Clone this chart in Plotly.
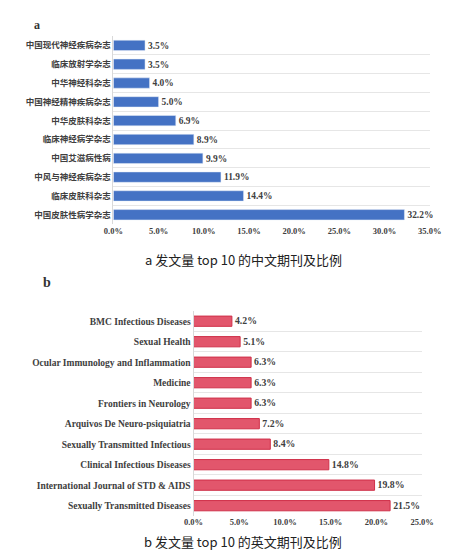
import plotly.graph_objects as go

cn_journals = ['中国皮肤性病学杂志', '临床皮肤科杂志', '中风与神经疾病杂志', '中国艾滋病性病',
               '临床神经病学杂志', '中华皮肤科杂志', '中国神经精神疾病杂志', '中华神经科杂志',
               '临床放射学杂志', '中国现代神经疾病杂志']
cn_share = [32.2, 14.4, 11.9, 9.9, 8.9, 6.9, 5.0, 4.0, 3.5, 3.5]

en_journals = ['Sexually Transmitted Diseases', 'International Journal of STD & AIDS',
               'Clinical Infectious Diseases', 'Sexually Transmitted Infectious',
               'Arquivos De Neuro-psiquiatria', 'Frontiers in Neurology', 'Medicine',
               'Ocular Immunology and Inflammation', 'Sexual Health', 'BMC Infectious Diseases']
en_share = [21.5, 19.8, 14.8, 8.4, 7.2, 6.3, 6.3, 6.3, 5.1, 4.2]

serif = 'Liberation Serif'
cjk = 'Noto Sans CJK SC'
pos = list(range(len(cn_journals)))
half = [i - 0.5 for i in range(len(cn_journals) + 1)]

fig = go.Figure()
fig.add_trace(go.Bar(
    x=cn_share, y=pos, orientation='h', width=0.55,
    marker=dict(color='#4472c4'),
    text=[f'<b>{v:.1f}%</b>' for v in cn_share], textposition='outside', cliponaxis=False,
    textfont=dict(family=serif, size=10, color='#404040'),
    xaxis='x', yaxis='y'))
fig.add_trace(go.Bar(
    x=en_share, y=pos, orientation='h', width=0.5,
    marker=dict(color='#e2566c', line=dict(color='#cf3049', width=1)),
    text=[f'<b>{v:.1f}%</b>' for v in en_share], textposition='outside', cliponaxis=False,
    textfont=dict(family=serif, size=10.5, color='#404040'),
    xaxis='x2', yaxis='y2'))

ax_common = dict(showgrid=False, zeroline=False, ticks='', tickprefix='<b>', ticksuffix='%</b>',
                 tickformat='.1f', dtick=5,
                 tickfont=dict(family=serif, size=8.5, color='#404040'))
fig.update_layout(
    width=472, height=560, showlegend=False, plot_bgcolor='white', paper_bgcolor='white',
    margin=dict(l=0, r=0, t=0, b=0),
    xaxis=dict(domain=[0.212, 0.915], range=[0, 35], anchor='y', **ax_common),
    yaxis=dict(domain=[0.614, 0.95], range=[-0.5, 9.5], tickvals=pos,
               ticktext=[f'<b>{t}</b>' for t in cn_journals],
               tickfont=dict(family=cjk, size=8.5, color='#404040'), ticks='', zeroline=False,
               showgrid=False, showline=True, linecolor='#d9d9d9', anchor='x',
               minor=dict(tickvals=half, showgrid=True, gridcolor='#e6e6e6')),
    xaxis2=dict(domain=[0.39, 0.898], range=[0, 25], anchor='y2', **ax_common),
    yaxis2=dict(domain=[0.093, 0.459], range=[-0.5, 9.5], tickvals=pos,
                ticktext=[f'<b>{t}</b>' for t in en_journals],
                tickfont=dict(family=serif, size=9.5, color='#404040'), ticks='', zeroline=False,
                showgrid=False, showline=True, linecolor='#d9d9d9', anchor='x2',
                minor=dict(tickvals=half, showgrid=True, gridcolor='#e6e6e6')),
    annotations=[
        dict(text='<b>a</b>', x=0.03, y=0.985, xref='paper', yref='paper', showarrow=False,
             font=dict(family=serif, size=12, color='#333')),
        dict(text='a 发文量 top 10 的中文期刊及比例', x=0.5, y=0.55, xref='paper', yref='paper',
             showarrow=False, font=dict(family=cjk, size=13, color='#222')),
        dict(text='<b>b</b>', x=0.05, y=0.51, xref='paper', yref='paper', showarrow=False,
             font=dict(family=serif, size=14, color='#333')),
        dict(text='b 发文量 top 10 的英文期刊及比例', x=0.5, y=0.027, xref='paper', yref='paper',
             showarrow=False, font=dict(family=cjk, size=13, color='#222')),
    ])

fig.write_html('out.html')
